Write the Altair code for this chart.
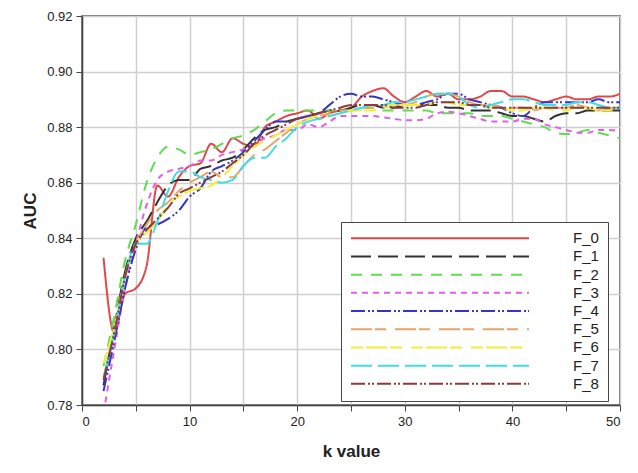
import altair as alt
import pandas as pd

k_values = list(range(2, 51))
series_names = ["F_0", "F_1", "F_2", "F_3", "F_4", "F_5", "F_6", "F_7", "F_8"]

F_0 = [.833, .806, .820, .822, .830, .859, .855, .862, .866, .867, .874, .871, .876, .874, .873, .880, .882, .884, .885, .886,
       .883, .885, .886, .887, .891, .893, .894, .891, .889, .891, .893, .891, .892, .890, .890, .891, .893, .893, .891, .891,
       .890, .889, .890, .891, .890, .890, .891, .891, .892]
F_1 = [.787, .808, .828, .840, .846, .853, .859, .861, .861, .865, .866, .868, .869, .872, .876, .879, .880, .882, .883, .884,
       .885, .886, .886, .887, .888, .888, .887, .887, .888, .888, .888, .888, .887, .887, .886, .886, .886, .885, .884, .884,
       .883, .882, .884, .885, .885, .886, .886, .886, .886]
F_2 = [.794, .812, .832, .845, .860, .869, .873, .872, .870, .871, .872, .874, .876, .877, .879, .882, .885, .886, .886, .886,
       .886, .886, .886, .886, .887, .887, .886, .886, .886, .886, .886, .885, .885, .885, .885, .884, .884, .884, .883, .882,
       .881, .880, .878, .8775, .878, .879, .878, .877, .876]
F_3 = [.777, .800, .822, .838, .852, .861, .864, .865, .866, .868, .868, .870, .871, .872, .874, .876, .877, .879, .879, .881,
       .880, .882, .884, .884, .884, .884, .8835, .883, .8825, .8825, .883, .885, .8855, .885, .884, .883, .882, .882, .882, .883,
       .883, .881, .880, .879, .878, .878, .879, .879, .8785]
F_4 = [.785, .803, .822, .836, .844, .845, .847, .850, .855, .858, .864, .866, .868, .871, .875, .879, .882, .882, .883, .884,
       .885, .888, .891, .892, .891, .891, .890, .889, .888, .888, .889, .890, .892, .892, .890, .889, .888, .887, .885, .884,
       .887, .889, .889, .889, .889, .889, .890, .889, .889]
F_5 = [.790, .806, .826, .838, .845, .850, .853, .857, .860, .862, .864, .862, .862, .866, .870, .872, .875, .878, .881, .883,
       .884, .885, .886, .886, .887, .887, .887, .888, .888, .889, .891, .892, .892, .891, .889, .888, .888, .887, .887, .887,
       .886, .887, .887, .887, .888, .887, .886, .887, .887]
F_6 = [.795, .808, .826, .838, .842, .846, .852, .855, .857, .858, .859, .862, .866, .870, .873, .875, .877, .879, .881, .883,
       .884, .884, .885, .886, .886, .886, .887, .888, .888, .888, .888, .889, .889, .888, .888, .888, .887, .887, .886, .886,
       .887, .887, .886, .886, .887, .887, .886, .886, .886]
F_7 = [.790, .806, .826, .838, .838, .846, .857, .864, .864, .862, .861, .860, .861, .866, .869, .869, .873, .876, .880, .882,
       .883, .884, .885, .886, .887, .888, .888, .889, .889, .890, .891, .892, .892, .891, .888, .887, .888, .889, .890, .890,
       .889, .888, .888, .888, .889, .889, .888, .887, .887]
F_8 = [.789, .806, .826, .838, .843, .847, .851, .856, .858, .860, .862, .864, .867, .870, .874, .877, .879, .881, .883, .884,
       .885, .886, .887, .888, .888, .888, .888, .887, .887, .887, .888, .889, .889, .889, .888, .888, .887, .887, .887, .887,
       .887, .887, .887, .887, .887, .887, .887, .887, .887]

all_series = [F_0, F_1, F_2, F_3, F_4, F_5, F_6, F_7, F_8]
colors = ["#e04848", "#333333", "#5fdc4f", "#e35ee6", "#3535c8", "#e9a467", "#f2ee3c", "#3fdde6", "#8b3b3b"]
dashes = [[1, 0], [20, 7], [11, 9], [6, 5], [14, 3, 2, 2, 2, 3], [21, 3, 11, 9], [12, 3, 21, 3, 12, 9], [21, 6],
          [14, 3, 2, 2, 2, 3]]

y_ticks = [0.78, 0.80, 0.82, 0.84, 0.86, 0.88, 0.90, 0.92]
x_ticks = list(range(0, 51, 5))

rows = []
for name, vals in zip(series_names, all_series):
    for k, v in zip(k_values, vals):
        rows.append({"k": k, "auc": v, "series": name})
df = pd.DataFrame(rows)

FONT = "Liberation Sans"

legend = alt.Legend(
    title=None,
    orient="none",
    legendX=259,
    legendY=206,
    symbolType="stroke",
    symbolSize=31684,
    symbolStrokeWidth=2,
    clipHeight=14.5,
    rowPadding=2.2,
    padding=9,
    labelOffset=43,
    labelFont=FONT,
    labelFontSize=15,
    labelColor="#222222",
    strokeColor="#444444",
    fillColor="white",
    cornerRadius=0,
)

chart = alt.Chart(df).mark_line(strokeWidth=2, interpolate="monotone", clip=True).encode(
    x=alt.X("k:Q", scale=alt.Scale(domain=[0, 50], nice=False),
            axis=alt.Axis(values=x_ticks, labelExpr="datum.value % 10 == 0 ? datum.label : ''",
                          title="k value", titlePadding=15)),
    y=alt.Y("auc:Q", scale=alt.Scale(domain=[0.78, 0.92], nice=False, zero=False),
            axis=alt.Axis(values=y_ticks, format=".2f", title="AUC", titlePadding=7)),
    color=alt.Color("series:N", scale=alt.Scale(domain=series_names, range=colors), legend=legend),
    strokeDash=alt.StrokeDash("series:N", scale=alt.Scale(domain=series_names, range=dashes), legend=legend),
).properties(
    width=538,
    height=389,
    autosize=alt.AutoSizeParams(type="none"),
    padding={"left": 74, "top": 8, "right": 10, "bottom": 62},
).configure_view(
    stroke="#444444", strokeWidth=1.5
).configure_axis(
    grid=True,
    gridColor="#cfcfcf",
    gridWidth=1.5,
    domainColor="#444444",
    domainWidth=1.5,
    tickColor="#444444",
    tickSize=6,
    labelFont=FONT,
    labelFontSize=13,
    labelColor="#222222",
    labelPadding=4,
    titleFont=FONT,
    titleFontSize=17,
    titleFontWeight="bold",
    titleColor="#222222",
)

chart.save("out.html", embed_options={"renderer": "svg", "actions": False})
